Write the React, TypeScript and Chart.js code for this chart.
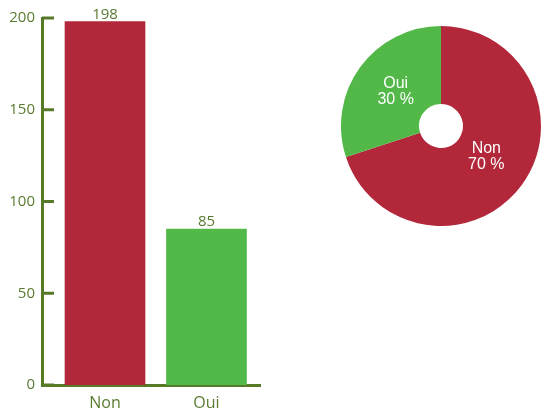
import React, { useEffect, useRef } from "react";
import { Chart, registerables } from "chart.js";

Chart.register(...registerables);

const categories = ["Non", "Oui"];
const counts = [198, 85];
const yTickValues = [0, 50, 100, 150, 200];
const sliceColors = ["#b2283a", "#52b848"];

const AXIS_COLOR = "#577a28";
const TEXT_COLOR = "#587b2f";
const BAR_FONT = "'Open Sans', 'DejaVu Sans', sans-serif";
const PIE_FONT = "'Liberation Sans', Arial, sans-serif";

const yTickMarks = {
  id: "yTickMarks",
  afterDraw(chart: any) {
    const { ctx, chartArea, scales } = chart;
    const y = scales.y;
    ctx.save();
    ctx.strokeStyle = AXIS_COLOR;
    ctx.lineWidth = 3;
    y.ticks.forEach((t: any) => {
      const py = y.getPixelForValue(t.value);
      ctx.beginPath();
      ctx.moveTo(chartArea.left, py);
      ctx.lineTo(chartArea.left + 12, py);
      ctx.stroke();
    });
    ctx.restore();
  },
};

const barValueLabels = {
  id: "barValueLabels",
  afterDatasetsDraw(chart: any) {
    const { ctx } = chart;
    const meta = chart.getDatasetMeta(0);
    ctx.save();
    ctx.fillStyle = TEXT_COLOR;
    ctx.font = `15px ${BAR_FONT}`;
    ctx.textAlign = "center";
    ctx.textBaseline = "alphabetic";
    meta.data.forEach((bar: any, i: number) => {
      ctx.fillText(String(counts[i]), bar.x, bar.y - 3);
    });
    ctx.restore();
  },
};

const pieLabels = {
  id: "pieLabels",
  afterDatasetsDraw(chart: any) {
    const { ctx } = chart;
    const meta = chart.getDatasetMeta(0);
    const total = counts.reduce((a, b) => a + b, 0);
    ctx.save();
    ctx.fillStyle = "#ffffff";
    ctx.font = `16px ${PIE_FONT}`;
    ctx.textAlign = "center";
    ctx.textBaseline = "middle";
    meta.data.forEach((arc: any, i: number) => {
      const p = arc.getProps(["x", "y", "startAngle", "endAngle", "outerRadius"], true);
      const mid = (p.startAngle + p.endAngle) / 2;
      const r = p.outerRadius * 0.56;
      const cx = p.x + Math.cos(mid) * r;
      const cy = p.y + Math.sin(mid) * r - 2;
      const pct = Math.round((counts[i] / total) * 100);
      ctx.fillText(categories[i], cx, cy - 8);
      ctx.fillText(`${pct} %`, cx, cy + 8);
    });
    ctx.restore();
  },
};

export default function App() {
  const barRef = useRef<HTMLCanvasElement>(null);
  const pieRef = useRef<HTMLCanvasElement>(null);

  useEffect(() => {
    const barChart = new Chart(barRef.current as HTMLCanvasElement, {
      type: "bar",
      data: {
        datasets: [
          {
            data: counts.map((v, i) => ({ x: i, y: v })),
            backgroundColor: sliceColors,
            borderWidth: 0,
            barThickness: 80,
          } as any,
        ],
      },
      options: {
        responsive: false,
        animation: false,
        layout: { padding: { top: 18, left: 0, right: 0, bottom: 0 } },
        plugins: { legend: { display: false }, tooltip: { enabled: false } },
        scales: {
          x: {
            type: "linear",
            offset: false,
            min: -0.6207,
            max: 1.537,
            grid: { display: false, drawTicks: false },
            border: { color: AXIS_COLOR, width: 3 },
            afterBuildTicks: (s: any) => {
              s.ticks = categories.map((_, i) => ({ value: i }));
            },
            afterFit: (s: any) => {
              s.height = 26;
            },
            ticks: {
              autoSkip: false,
              maxRotation: 0,
              padding: 9,
              color: TEXT_COLOR,
              font: { family: BAR_FONT, size: 16 },
              callback: (v: any) => categories[Math.round(Number(v))] ?? "",
            },
          },
          y: {
            min: 0,
            max: 200,
            grid: { display: false, drawTicks: false },
            border: { color: AXIS_COLOR, width: 3 },
            afterBuildTicks: (s: any) => {
              s.ticks = yTickValues.map((v) => ({ value: v }));
            },
            afterFit: (s: any) => {
              s.width = 42;
            },
            ticks: {
              padding: 7,
              color: TEXT_COLOR,
              font: { family: BAR_FONT, size: 15 },
            },
          },
        },
      } as any,
      plugins: [yTickMarks, barValueLabels],
    });

    const pieChart = new Chart(pieRef.current as HTMLCanvasElement, {
      type: "doughnut",
      data: {
        labels: categories,
        datasets: [
          {
            data: counts,
            backgroundColor: sliceColors,
            borderWidth: 0,
          },
        ],
      },
      options: {
        responsive: false,
        animation: false,
        cutout: "22%",
        layout: { padding: 0 },
        plugins: { legend: { display: false }, tooltip: { enabled: false } },
      } as any,
      plugins: [pieLabels],
    });

    return () => {
      barChart.destroy();
      pieChart.destroy();
    };
  }, []);

  return (
    <div
      style={{
        position: "fixed",
        left: 0,
        top: 0,
        width: 541,
        height: 411,
        background: "#ffffff",
        overflow: "hidden",
      }}
    >
      <canvas
        ref={barRef}
        width={261}
        height={411}
        style={{ position: "absolute", left: 0, top: 0 }}
      />
      <canvas
        ref={pieRef}
        width={200}
        height={200}
        style={{ position: "absolute", left: 341, top: 26 }}
      />
    </div>
  );
}
